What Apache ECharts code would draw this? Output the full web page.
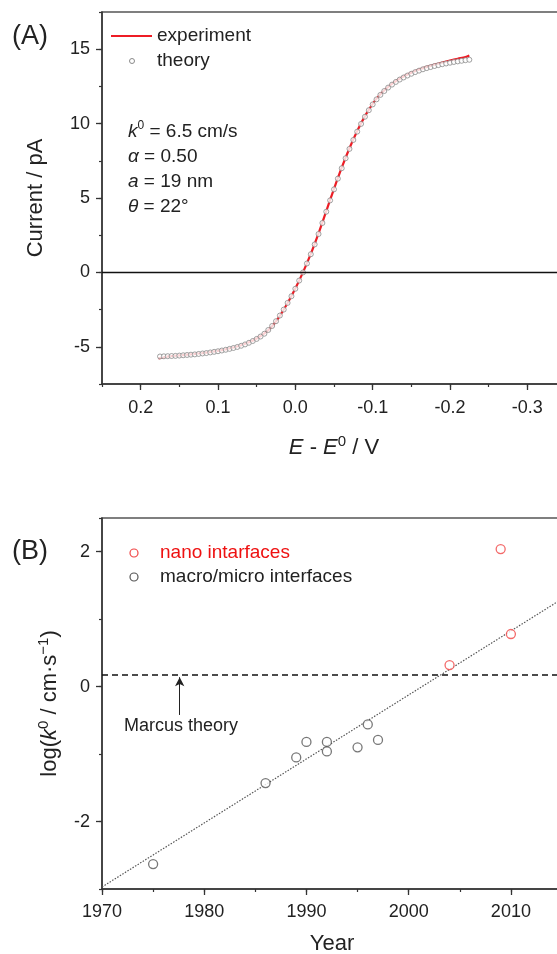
<!DOCTYPE html>
<html>
<head>
<meta charset="utf-8">
<script src="https://cdn.jsdelivr.net/npm/echarts@6/dist/echarts.min.js"></script>
<style>
  html, body { margin: 0; padding: 0; background: #fff; }
  #main { width: 557px; height: 954px; }
</style>
</head>
<body>
<div id="main"></div>
<script>
// (A) steady-state voltammogram, current (pA) vs E - E0 (V)
const theoryE = [
  0.175, 0.17, 0.165, 0.16, 0.155, 0.15, 0.145, 0.14, 0.135, 0.13,
  0.125, 0.12, 0.115, 0.11, 0.105, 0.1, 0.095, 0.09, 0.085, 0.08,
  0.075, 0.07, 0.065, 0.06, 0.055, 0.05, 0.045, 0.04, 0.035, 0.03,
  0.025, 0.02, 0.015, 0.01, 0.005, 0, -0.005, -0.01, -0.015, -0.02,
  -0.025, -0.03, -0.035, -0.04, -0.045, -0.05, -0.055, -0.06, -0.065, -0.07,
  -0.075, -0.08, -0.085, -0.09, -0.095, -0.1, -0.105, -0.11, -0.115, -0.12,
  -0.125, -0.13, -0.135, -0.14, -0.145, -0.15, -0.155, -0.16, -0.165, -0.17,
  -0.175, -0.18, -0.185, -0.19, -0.195, -0.2, -0.205, -0.21, -0.215, -0.22,
  -0.225
];
const theoryI = [
  -5.65, -5.64, -5.63, -5.62, -5.61, -5.59, -5.57, -5.55, -5.53, -5.51,
  -5.48, -5.45, -5.42, -5.38, -5.34, -5.30, -5.25, -5.20, -5.14, -5.08,
  -5.01, -4.93, -4.84, -4.73, -4.61, -4.47, -4.31, -4.12, -3.87, -3.60,
  -3.28, -2.90, -2.50, -2.05, -1.60, -1.10, -0.55, 0.00, 0.60, 1.22,
  1.88, 2.58, 3.32, 4.08, 4.84, 5.58, 6.30, 7.00, 7.67, 8.30,
  8.90, 9.46, 9.98, 10.46, 10.90, 11.29, 11.63, 11.93, 12.19, 12.42,
  12.62, 12.80, 12.96, 13.10, 13.23, 13.35, 13.46, 13.56, 13.65, 13.73,
  13.80, 13.87, 13.93, 13.99, 14.04, 14.09, 14.14, 14.18, 14.22, 14.26,
  14.29
];
const expE = [
  0.177, 0.17, 0.16, 0.15, 0.14, 0.13, 0.12, 0.11, 0.10, 0.09,
  0.08, 0.07, 0.06, 0.05, 0.04, 0.03, 0.02, 0.01, 0, -0.01,
  -0.02, -0.03, -0.04, -0.05, -0.06, -0.07, -0.08, -0.09, -0.1, -0.11,
  -0.12, -0.13, -0.14, -0.15, -0.16, -0.17, -0.18, -0.19, -0.2, -0.21,
  -0.22, -0.225
];
const expI = [
  -5.78, -5.70, -5.63, -5.58, -5.53, -5.48, -5.42, -5.35, -5.27, -5.17,
  -5.05, -4.90, -4.70, -4.44, -4.10, -3.62, -2.92, -2.06, -1.08, 0.02,
  1.24, 2.62, 4.12, 5.62, 7.04, 8.34, 9.50, 10.50, 11.33, 11.97,
  12.46, 12.85, 13.16, 13.42, 13.63, 13.81, 13.97, 14.11, 14.24, 14.36,
  14.47, 14.58
];
const potentialTicks = [0.2, 0.1, 0, -0.1, -0.2, -0.3];
const currentTicks = [-5, 0, 5, 10, 15];

// (B) log(k0) vs year
const macroYears = [1975, 1986, 1989, 1990, 1992, 1992, 1995, 1996, 1997];
const macroLogK = [-2.63, -1.43, -1.05, -0.82, -0.82, -0.96, -0.90, -0.56, -0.79];
const nanoYears = [2004, 2009, 2010];
const nanoLogK = [0.32, 2.04, 0.78];
const fitYears = [1970, 2015];
const fitLogK = [-2.97, 1.30];
const marcusLogK = 0.18;
const arrowYear = 1977.6;
const arrowLogK = [-0.42, 0.14];
const yearTicks = [1970, 1980, 1990, 2000, 2010];
const logKTicks = [-2, 0, 2];

const FONT = 'Liberation Sans, Arial, sans-serif';
const TXT = '#222';
const AXIS = '#333';

const zip = (xs, ys) => xs.map((x, i) => [x, ys[i]]);

const nameRich = {
  n: { fontSize: 22, fontFamily: FONT, color: TXT, lineHeight: 28 },
  i: { fontSize: 22, fontFamily: FONT, color: TXT, fontStyle: 'italic', lineHeight: 28 },
  s: { fontSize: 15, fontFamily: FONT, color: TXT, lineHeight: 15, verticalAlign: 'top' }
};
const paramRich = {
  n: { fontSize: 19, fontFamily: FONT, fill: TXT, lineHeight: 24 },
  i: { fontSize: 19, fontFamily: FONT, fill: TXT, fontStyle: 'italic', lineHeight: 24 },
  s: { fontSize: 12, fontFamily: FONT, fill: TXT, lineHeight: 12, verticalAlign: 'top' }
};

// major axis: labels + long ticks; minor axis: short ticks only
function majorAxis(grid, min, max, ticks, fmt, margin, extra) {
  return Object.assign({
    gridIndex: grid, type: 'value', min, max,
    axisLine: { onZero: false, lineStyle: { color: AXIS, width: 1.5 } },
    axisTick: { customValues: ticks, length: 6, lineStyle: { color: AXIS, width: 1.3 } },
    axisLabel: { customValues: ticks, formatter: fmt, color: TXT, fontSize: 18, fontFamily: FONT, margin },
    splitLine: { show: false }
  }, extra);
}
function minorAxis(grid, min, max, interval, extra) {
  return Object.assign({
    gridIndex: grid, type: 'value', min, max, interval,
    axisLine: { show: false, onZero: false },
    axisTick: { length: 3, lineStyle: { color: AXIS, width: 1.2 } },
    axisLabel: { show: false },
    splitLine: { show: false }
  }, extra);
}

const chart = echarts.init(document.getElementById('main'), null, { renderer: 'canvas' });

chart.setOption({
  animation: false,
  backgroundColor: '#fff',
  grid: [
    { left: 102, top: 12, width: 464, height: 372, outerBoundsMode: 'none', containLabel: false,
      show: true, borderColor: '#555', borderWidth: 1.5 },
    { left: 102, top: 518, width: 460, height: 371, outerBoundsMode: 'none', containLabel: false,
      show: true, borderColor: '#555', borderWidth: 1.5 }
  ],
  xAxis: [
    majorAxis(0, -0.35, 0.25, potentialTicks, v => v.toFixed(1), 15, {
      inverse: true, position: 'bottom',
      name: '{i|E}{n| - }{i|E}{s|0}{n| / V}', nameLocation: 'middle', nameGap: 50,
      nameTextStyle: { rich: nameRich }
    }),
    minorAxis(0, -0.35, 0.25, 0.05, { inverse: true, position: 'bottom' }),
    majorAxis(1, 1970, 2015, yearTicks, v => String(v), 14, {
      position: 'bottom',
      name: 'Year', nameLocation: 'middle', nameGap: 44,
      nameTextStyle: { fontSize: 22, fontFamily: FONT, color: TXT }
    }),
    minorAxis(1, 1970, 2015, 5, { position: 'bottom' })
  ],
  yAxis: [
    majorAxis(0, -7.5, 17.5, currentTicks, v => String(v), 12, {
      position: 'left',
      name: 'Current / pA', nameLocation: 'middle', nameRotate: 90, nameGap: 55,
      nameTextStyle: { fontSize: 22, fontFamily: FONT, color: TXT }
    }),
    minorAxis(0, -7.5, 17.5, 2.5, { position: 'left' }),
    majorAxis(1, -3, 2.5, logKTicks, v => String(v), 12, {
      position: 'left',
      name: '{n|log(}{i|k}{s|0}{n| / cm·s}{s|−1}{n|)}', nameLocation: 'middle', nameRotate: 90, nameGap: 38,
      nameTextStyle: { rich: nameRich }
    }),
    minorAxis(1, -3, 2.5, 1, { position: 'left' })
  ],
  series: [
    {
      name: 'experiment', type: 'line', xAxisIndex: 0, yAxisIndex: 0,
      data: zip(expE, expI), showSymbol: false, smooth: 0.3, z: 2,
      lineStyle: { color: '#ee1c25', width: 2.2 },
      markLine: {
        silent: true, symbol: 'none', label: { show: false },
        lineStyle: { color: '#111', width: 1.3, type: 'solid' },
        data: [{ yAxis: 0 }]
      }
    },
    {
      name: 'theory', type: 'scatter', xAxisIndex: 0, yAxisIndex: 0,
      data: zip(theoryE, theoryI), symbol: 'circle', symbolSize: 5, z: 3,
      itemStyle: { color: '#fff', borderColor: '#8a8a8a', borderWidth: 1 }
    },
    {
      name: 'fit', type: 'line', xAxisIndex: 2, yAxisIndex: 2,
      data: zip(fitYears, fitLogK), showSymbol: false, z: 2,
      lineStyle: { color: '#555', width: 1.2, type: [1.5, 1.5] }
    },
    {
      name: 'macro/micro interfaces', type: 'scatter', xAxisIndex: 2, yAxisIndex: 2,
      data: zip(macroYears, macroLogK), symbol: 'circle', symbolSize: 9, z: 3,
      itemStyle: { color: '#fff', borderColor: '#555', borderWidth: 1.3 },
      markLine: {
        silent: true, symbol: ['none', 'arrow'], symbolSize: [7, 9], label: { show: false },
        lineStyle: { color: '#222', width: 1, type: 'solid' },
        data: [[{ coord: [arrowYear, arrowLogK[0]] }, { coord: [arrowYear, arrowLogK[1]] }]]
      }
    },
    {
      name: 'nano intarfaces', type: 'scatter', xAxisIndex: 2, yAxisIndex: 2,
      data: zip(nanoYears, nanoLogK), symbol: 'circle', symbolSize: 9, z: 3,
      itemStyle: { color: '#fff', borderColor: '#f04545', borderWidth: 1.3 },
      markLine: {
        silent: true, symbol: 'none', label: { show: false },
        lineStyle: { color: '#111', width: 1.5, type: [6, 4] },
        data: [{ yAxis: marcusLogK }]
      }
    }
  ],
  graphic: { elements: [
    { type: 'text', x: 12, y: 37, style: { text: '(A)', font: '27px ' + FONT, fill: TXT, textVerticalAlign: 'middle' } },
    { type: 'line', shape: { x1: 111, y1: 36, x2: 152, y2: 36 }, style: { stroke: '#ee1c25', lineWidth: 1.8 } },
    { type: 'text', x: 157, y: 36, style: { text: 'experiment', font: '19px ' + FONT, fill: TXT, textVerticalAlign: 'middle' } },
    { type: 'circle', shape: { cx: 132, cy: 61, r: 2.5 }, style: { fill: '#fff', stroke: '#8a8a8a', lineWidth: 1 } },
    { type: 'text', x: 157, y: 61, style: { text: 'theory', font: '19px ' + FONT, fill: TXT, textVerticalAlign: 'middle' } },
    { type: 'text', x: 128, y: 132, style: { text: '{i|k}{s|0}{n| = 6.5 cm/s}', rich: paramRich, textVerticalAlign: 'middle' } },
    { type: 'text', x: 128, y: 157, style: { text: '{i|α}{n| = 0.50}', rich: paramRich, textVerticalAlign: 'middle' } },
    { type: 'text', x: 128, y: 182, style: { text: '{i|a}{n| = 19 nm}', rich: paramRich, textVerticalAlign: 'middle' } },
    { type: 'text', x: 128, y: 207, style: { text: '{i|θ}{n| = 22°}', rich: paramRich, textVerticalAlign: 'middle' } },

    { type: 'text', x: 12, y: 552, style: { text: '(B)', font: '27px ' + FONT, fill: TXT, textVerticalAlign: 'middle' } },
    { type: 'circle', shape: { cx: 134, cy: 553, r: 4 }, style: { fill: '#fff', stroke: '#f04545', lineWidth: 1.2 } },
    { type: 'text', x: 160, y: 553, style: { text: 'nano intarfaces', font: '19px ' + FONT, fill: '#ee1111', textVerticalAlign: 'middle' } },
    { type: 'circle', shape: { cx: 134, cy: 577, r: 4 }, style: { fill: '#fff', stroke: '#555', lineWidth: 1.2 } },
    { type: 'text', x: 160, y: 577, style: { text: 'macro/micro interfaces', font: '19px ' + FONT, fill: TXT, textVerticalAlign: 'middle' } },
    { type: 'text', x: 124, y: 726, style: { text: 'Marcus theory', font: '18px ' + FONT, fill: TXT, textVerticalAlign: 'middle' } }
  ] }
});
</script>
</body>
</html>
